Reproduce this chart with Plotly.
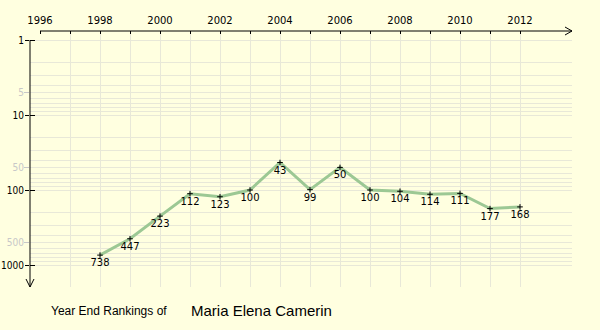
import plotly.graph_objects as go

# Year-end ranking data
years = [1998, 1999, 2000, 2001, 2002, 2003, 2004, 2005, 2006, 2007, 2008, 2009, 2010, 2011, 2012]
rankings = [738, 447, 223, 112, 123, 100, 43, 99, 50, 100, 104, 114, 111, 177, 168]

year_ticks = list(range(1996, 2013))
year_labels = [str(y) if y % 2 == 0 else "" for y in year_ticks]
major_ranks = [1, 10, 100, 1000]
minor_ranks = [5, 50, 500]
grid_ranks = [d * m for m in (1, 10, 100) for d in range(2, 10)]

player = "Maria Elena Camerin"

BG = "#FFFFE0"
GRID = "#E8E8D8"
LINE_GREEN = "#9CC894"
FADED = "#C8C8C8"
TICK_FONT = dict(family="DejaVu Sans", size=10, color="black")
YTICK_FONT = dict(family="DejaVu Sans Condensed, DejaVu Sans", size=10, color="black")

W, H = 600, 330
L, R, T, B = 30, 28, 31, 43
PW, PH = W - L - R, H - T - B


def px(x):
    return (x - L) / PW


def py(y):
    return (H - B - y) / PH


fig = go.Figure()

fig.add_trace(go.Scatter(
    x=years, y=rankings,
    mode="lines+markers+text",
    line=dict(color=LINE_GREEN, width=3),
    marker=dict(symbol="cross-thin", size=4, line=dict(color="black", width=1), color="black"),
    text=[str(r) for r in rankings],
    textposition="bottom center",
    textfont=TICK_FONT,
    cliponaxis=False,
    hoverinfo="skip",
    showlegend=False,
))
# empty traces so the overlay axes get drawn
for ax in ("y2", "y3"):
    fig.add_trace(go.Scatter(x=[None], y=[None], yaxis=ax, showlegend=False, hoverinfo="skip"))

yrange = [3.2933, -0.12]

fig.update_layout(
    width=W, height=H,
    margin=dict(l=L, r=R, t=T, b=B, autoexpand=False),
    paper_bgcolor=BG, plot_bgcolor=BG,
    xaxis=dict(
        side="top", automargin=False,
        range=[1995.6667, 2013.7333],
        tickmode="array", tickvals=year_ticks, ticktext=year_labels,
        ticks="inside", ticklen=3, tickcolor="black", tickwidth=1,
        tickfont=TICK_FONT, ticklabelstandoff=4,
        showgrid=False, zeroline=False, showline=False,
        minor=dict(tickmode="array", tickvals=year_ticks[1:], showgrid=True,
                   gridcolor=GRID, gridwidth=1, ticks=""),
    ),
    yaxis=dict(
        type="log", range=yrange, automargin=False,
        tickmode="array", tickvals=major_ranks, ticktext=[str(v) for v in major_ranks],
        ticks="outside", ticklen=4, tickcolor="black", tickwidth=1,
        tickfont=YTICK_FONT, ticklabelstandoff=-1,
        showgrid=True, gridcolor=GRID, gridwidth=1,
        zeroline=False, showline=False,
        minor=dict(tickmode="array", tickvals=grid_ranks, showgrid=True,
                   gridcolor=GRID, gridwidth=1, ticks=""),
    ),
    yaxis2=dict(
        type="log", range=yrange, overlaying="y", anchor="x", side="left", automargin=False,
        tickmode="array", tickvals=major_ranks,
        ticks="inside", ticklen=5, tickcolor="black", tickwidth=1,
        showticklabels=False, showgrid=False, zeroline=False, showline=False,
    ),
    yaxis3=dict(
        type="log", range=yrange, overlaying="y", anchor="x", side="left", automargin=False,
        tickmode="array", tickvals=minor_ranks, ticktext=[str(v) for v in minor_ranks],
        ticks="outside", ticklen=5, tickcolor=FADED, tickwidth=1,
        tickfont=dict(family="DejaVu Sans Condensed, DejaVu Sans", size=10, color=FADED),
        ticklabelstandoff=-2,
        showgrid=False, zeroline=False, showline=False,
    ),
    shapes=[
        # horizontal (year) axis with arrow
        dict(type="line", xref="paper", yref="paper", x0=px(40), x1=px(572), y0=py(31), y1=py(31),
             line=dict(color="black", width=1)),
        dict(type="path", xref="paper", yref="paper",
             path=f"M {px(565)},{py(27)} L {px(572)},{py(31)} L {px(565)},{py(35)}",
             line=dict(color="black", width=1)),
        # vertical (ranking) axis with arrow
        dict(type="line", xref="paper", yref="paper", x0=px(30), x1=px(30), y0=py(40), y1=py(287),
             line=dict(color="black", width=1)),
        dict(type="path", xref="paper", yref="paper",
             path=f"M {px(26)},{py(279)} L {px(30)},{py(287)} L {px(34)},{py(279)}",
             line=dict(color="black", width=1)),
    ],
    annotations=[
        dict(xref="paper", yref="paper", x=px(49), y=py(311), xanchor="left", yanchor="middle",
             text="Year End Rankings of", showarrow=False,
             font=dict(family="Liberation Sans", size=12, color="black")),
        dict(xref="paper", yref="paper", x=px(189), y=py(310), xanchor="left", yanchor="middle",
             text=player, showarrow=False,
             font=dict(family="Liberation Sans", size=15, color="black")),
    ],
)

fig.write_html("out.html")
